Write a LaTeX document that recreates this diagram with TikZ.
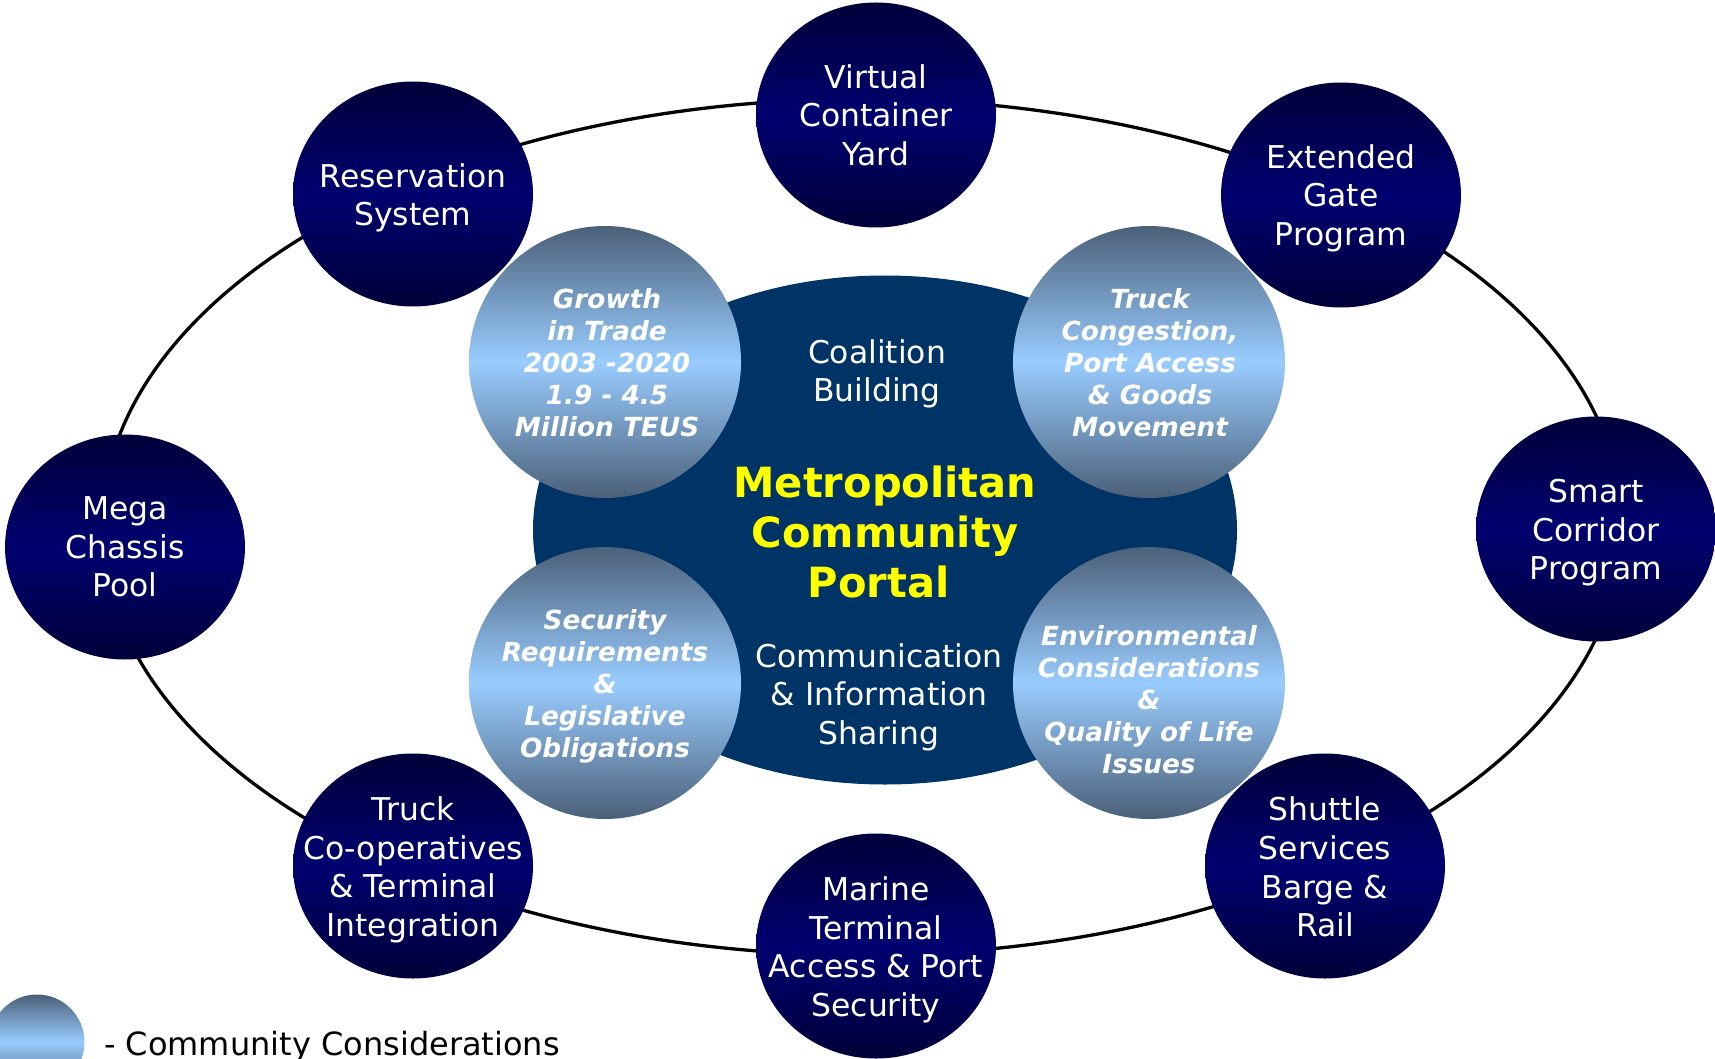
\documentclass[tikz,border=0pt]{standalone}
\usepackage{fontspec}
\setmainfont{DejaVu Sans}
\usetikzlibrary{shapes.geometric}
\definecolor{dkedge}{HTML}{00003A}
\definecolor{dkmid}{HTML}{000070}
\definecolor{gredge}{HTML}{4B6079}
\definecolor{grmid}{HTML}{99CCFF}
\definecolor{portalblue}{HTML}{003366}
\definecolor{portalyellow}{HTML}{FFFF00}
\tikzset{
  ring/.style={ellipse, draw=black, line width=3.3pt, inner sep=0pt},
  darkc/.style={ellipse, inner sep=0pt, minimum width=240pt, minimum height=225pt,
    top color=dkedge, bottom color=dkedge, middle color=dkmid},
  gradc/.style={circle, inner sep=0pt, minimum size=272pt,
    top color=gredge, bottom color=gredge, middle color=grmid},
  darktext/.style={text=white, align=center, inner sep=0pt, font=\fontsize{31.4}{38.6}\selectfont},
  gradtext/.style={text=white, align=center, inner sep=0pt, font=\bfseries\itshape\fontsize{26.3}{32}\selectfont},
  portaltext/.style={text=portalyellow, align=center, inner sep=0pt, font=\bfseries\fontsize{41.6}{50}\selectfont},
  legendtext/.style={text=black, inner sep=0pt, font=\fontsize{32}{38}\selectfont}
}
\begin{document}
\begin{tikzpicture}[x=1pt,y=-1pt]
\useasboundingbox (0,0) rectangle (1715,1059);
% outer ring
\node[ring, minimum width=1520pt, minimum height=856pt] (outer) at (862,527) {};
% central portal ellipse
\node[ellipse, fill=portalblue, inner sep=0pt, minimum width=704pt, minimum height=509pt] (portal) at (885,530) {};
\node[portaltext] (portal-t) at (885,532) {Metropolitan\\Community\\Portal\hspace*{13pt}};
\node[darktext] (coal) at (877,374) {Coalition\\Building};
\node[darktext] (comm) at (879,697) {Communication\\\& Information\\Sharing};
% dark circles
\node[darkc] (vcy) at (876,115) {};
\node[darktext] (vcy-t) at (876,115) {Virtual\\Container\\Yard};
\node[darkc] (res) at (413,194) {};
\node[darktext] (res-t) at (413,198) {Reservation\\System};
\node[darkc] (egp) at (1341,195) {};
\node[darktext] (egp-t) at (1341,198) {Extended\\Gate\\Program};
\node[darkc] (mcp) at (125,547) {};
\node[darktext] (mcp-t) at (125,547) {Mega\\Chassis\\Pool};
\node[darkc] (scp) at (1596,529) {};
\node[darktext] (scp-t) at (1596,533) {Smart\\Corridor\\Program};
\node[darkc] (tco) at (413,866) {};
\node[darktext] (tco-t) at (413,870) {Truck\\Co-operatives\\\& Terminal\\Integration};
\node[darkc] (mts) at (876,946) {};
\node[darktext] (mts-t) at (876,950) {Marine\\Terminal\\Access \& Port\\Security};
\node[darkc] (ssb) at (1325,866) {};
\node[darktext] (ssb-t) at (1325,867) {Shuttle\\Services\\Barge \&\\Rail};
% gradient circles
\node[gradc] (growth) at (605,362) {};
\node[gradtext] (growth-t) at (607,363) {Growth\\in Trade\\2003 -2020\\1.9 - 4.5\\Million TEUS};
\node[gradc] (truck) at (1149,362) {};
\node[gradtext] (truck-t) at (1150,363) {Truck\\Congestion,\\Port Access\\\& Goods\\Movement};
\node[gradc] (sec) at (605,683) {};
\node[gradtext] (sec-t) at (605,686) {Security\\Requirements\\\&\\Legislative\\Obligations};
\node[gradc] (env) at (1149,683) {};
\node[gradtext] (env-t) at (1149,700) {Environmental\\Considerations\\\&\\Quality of Life\\Issues};
% legend
\node[gradc, minimum size=95pt] (legc) at (37,1042) {};
\node[legendtext, anchor=base west] (leg-t) at (104,1055) {- Community Considerations};
\end{tikzpicture}
\end{document}
